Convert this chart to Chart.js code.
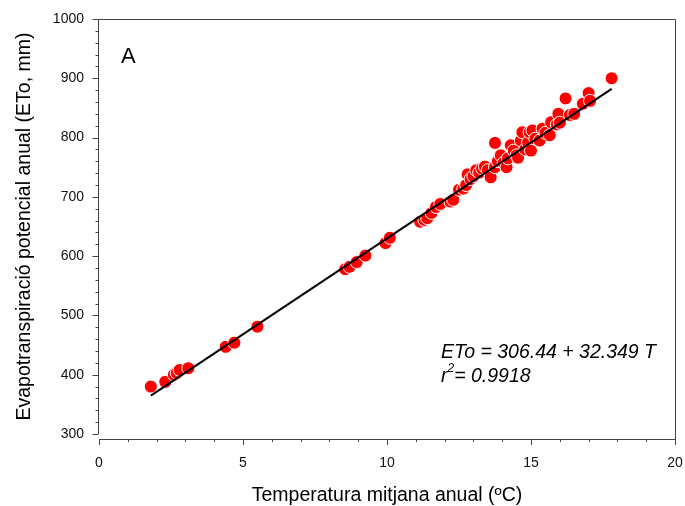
<!DOCTYPE html>
<html>
<head>
<meta charset="utf-8">
<script src="https://cdn.jsdelivr.net/npm/chart.js@4.4.0/dist/chart.umd.min.js"></script>
<style>
  html, body { margin: 0; padding: 0; background: #fff; }
  #wrap { width: 685px; height: 506px; }
</style>
</head>
<body>
<div id="wrap"><canvas id="etoChart" width="685" height="506"></canvas></div>
<script>
// mean annual temperature (ºC) and annual ETo (mm)
const tempValues = [
    1.8, 2.3, 2.6, 2.7, 2.8, 3.1, 4.4, 4.7, 5.5,
    8.55, 8.7, 8.95, 9.25, 9.95, 10.1,
    11.15, 11.3, 11.4, 11.55, 11.7, 11.85, 12.2, 12.3, 12.5, 12.65,
    12.75, 12.8, 12.9, 13.0, 13.1, 13.2, 13.3, 13.4, 13.5, 13.6,
    13.75, 13.75, 13.85, 13.95, 14.05, 14.15, 14.2, 14.3, 14.4, 14.5,
    14.55, 14.65, 14.7, 14.8, 14.9, 14.95, 15.0, 15.05, 15.15, 15.3,
    15.4, 15.5, 15.65, 15.7, 15.9, 15.95, 16.0, 16.2, 16.35, 16.5,
    16.8, 17.0, 17.05, 17.8
];
const etoValues = [
    380, 388, 400, 403, 408, 411, 447, 454, 481,
    578, 582, 590, 601, 622, 631,
    658, 661, 664, 673, 683, 688, 692, 695, 712, 714,
    720, 738, 730, 735, 745, 741, 748, 751, 745, 733,
    791, 750, 760, 770, 757, 750, 765, 787, 778, 770,
    766, 795, 809, 780, 792, 809, 778, 812, 798, 795,
    815, 808, 804, 826, 822, 840, 825, 866, 838, 840,
    857, 875, 862, 900
];

// regression line end points (ETo = 306.44 + 32.349 T)
const fitX = [1.8, 17.8];
const fitY = [364.7, 882.2];

const xTicks = [0, 5, 10, 15, 20];
const yTicks = [300, 400, 500, 600, 700, 800, 900, 1000];

const FONT = "'Liberation Sans', Arial, sans-serif";
const AXIS_COLOR = '#444';

const points = tempValues.map((t, i) => ({ x: t, y: etoValues[i] }));
const fitLine = fitX.map((t, i) => ({ x: t, y: fitY[i] }));

// frame, offset x axis, minor ticks and annotations
const framePlugin = {
    id: 'frame',
    afterDraw(chart) {
        const { ctx, chartArea: a, scales: { x, y } } = chart;
        const axisY = a.bottom + 5;
        ctx.save();
        ctx.strokeStyle = AXIS_COLOR;
        ctx.lineWidth = 1;
        ctx.beginPath();
        // left axis, top and right border
        ctx.moveTo(a.left - 0.5, a.bottom);
        ctx.lineTo(a.left - 0.5, a.top + 0.5);
        ctx.lineTo(a.right + 0.5, a.top + 0.5);
        ctx.lineTo(a.right + 0.5, axisY + 0.5);
        // bottom axis
        ctx.moveTo(a.left, axisY + 0.5);
        ctx.lineTo(a.right + 1, axisY + 0.5);
        // y ticks every 20
        for (let v = 300; v <= 1000; v += 20) {
            const py = Math.round(y.getPixelForValue(v)) + 0.5;
            const len = (v % 100 === 0) ? 6 : 3;
            ctx.moveTo(a.left - 0.5, py);
            ctx.lineTo(a.left - 0.5 - len, py);
        }
        // x ticks every 1
        for (let v = 0; v <= 20; v += 1) {
            const px = Math.round(x.getPixelForValue(v)) + 0.5;
            const len = (v % 5 === 0) ? 6 : 3;
            ctx.moveTo(px, axisY);
            ctx.lineTo(px, axisY + len);
        }
        ctx.stroke();

        ctx.fillStyle = '#000';
        ctx.textBaseline = 'middle';
        ctx.textAlign = 'left';
        ctx.font = '22px ' + FONT;
        ctx.fillText('A', 121, 57);

        ctx.font = 'italic 19.5px ' + FONT;
        ctx.fillText('ETo = 306.44 + 32.349 T', 441, 353);
        ctx.fillText('r', 441, 377);
        const rw = ctx.measureText('r').width;
        ctx.font = 'italic 12px ' + FONT;
        ctx.fillText('2', 441 + rw, 369);
        const sw = ctx.measureText('2').width;
        ctx.font = 'italic 19.5px ' + FONT;
        ctx.fillText('= 0.9918', 441 + rw + sw, 377);
        ctx.restore();
    }
};

new Chart(document.getElementById('etoChart'), {
    type: 'scatter',
    data: {
        datasets: [
            {
                type: 'line',
                data: fitLine,
                borderColor: '#000',
                borderWidth: 2,
                pointRadius: 0,
                fill: false,
                order: 0
            },
            {
                data: points,
                backgroundColor: '#ff0000',
                borderColor: '#ffffff',
                borderWidth: 1,
                pointRadius: 6.5,
                order: 1
            }
        ]
    },
    options: {
        responsive: false,
        animation: false,
        layout: { padding: { top: 19, right: 10, left: 0, bottom: 0 } },
        plugins: {
            legend: { display: false },
            tooltip: { enabled: false }
        },
        scales: {
            x: {
                type: 'linear',
                min: 0,
                max: 20,
                afterFit(scale) {
                    scale.height = 72;
                    scale.paddingLeft = 0;
                    scale.paddingRight = 0;
                },
                afterBuildTicks(scale) { scale.ticks = xTicks.map(v => ({ value: v })); },
                grid: { display: false, drawTicks: false },
                border: { display: false },
                ticks: {
                    padding: 21,
                    color: '#111',
                    font: { family: FONT, size: 14 },
                    maxRotation: 0,
                    callback: v => String(v)
                },
                title: {
                    display: true,
                    text: 'Temperatura mitjana anual (ºC)',
                    color: '#000',
                    font: { family: FONT, size: 19.5, lineHeight: 1 },
                    padding: { top: 0, bottom: 1 }
                }
            },
            y: {
                type: 'linear',
                min: 300,
                max: 1000,
                afterFit(scale) {
                    scale.width = 99;
                    scale.paddingTop = 0;
                    scale.paddingBottom = 0;
                },
                afterBuildTicks(scale) { scale.ticks = yTicks.map(v => ({ value: v })); },
                grid: { display: false, drawTicks: false },
                border: { display: false },
                ticks: {
                    padding: 15,
                    color: '#111',
                    font: { family: FONT, size: 14 },
                    callback: v => String(v)
                },
                title: {
                    display: true,
                    text: 'Evapotranspiració potencial anual (ETo, mm)',
                    color: '#000',
                    font: { family: FONT, size: 19.5, lineHeight: 1 },
                    padding: { top: 15, bottom: 0 }
                }
            }
        }
    },
    plugins: [framePlugin]
});
</script>
</body>
</html>
